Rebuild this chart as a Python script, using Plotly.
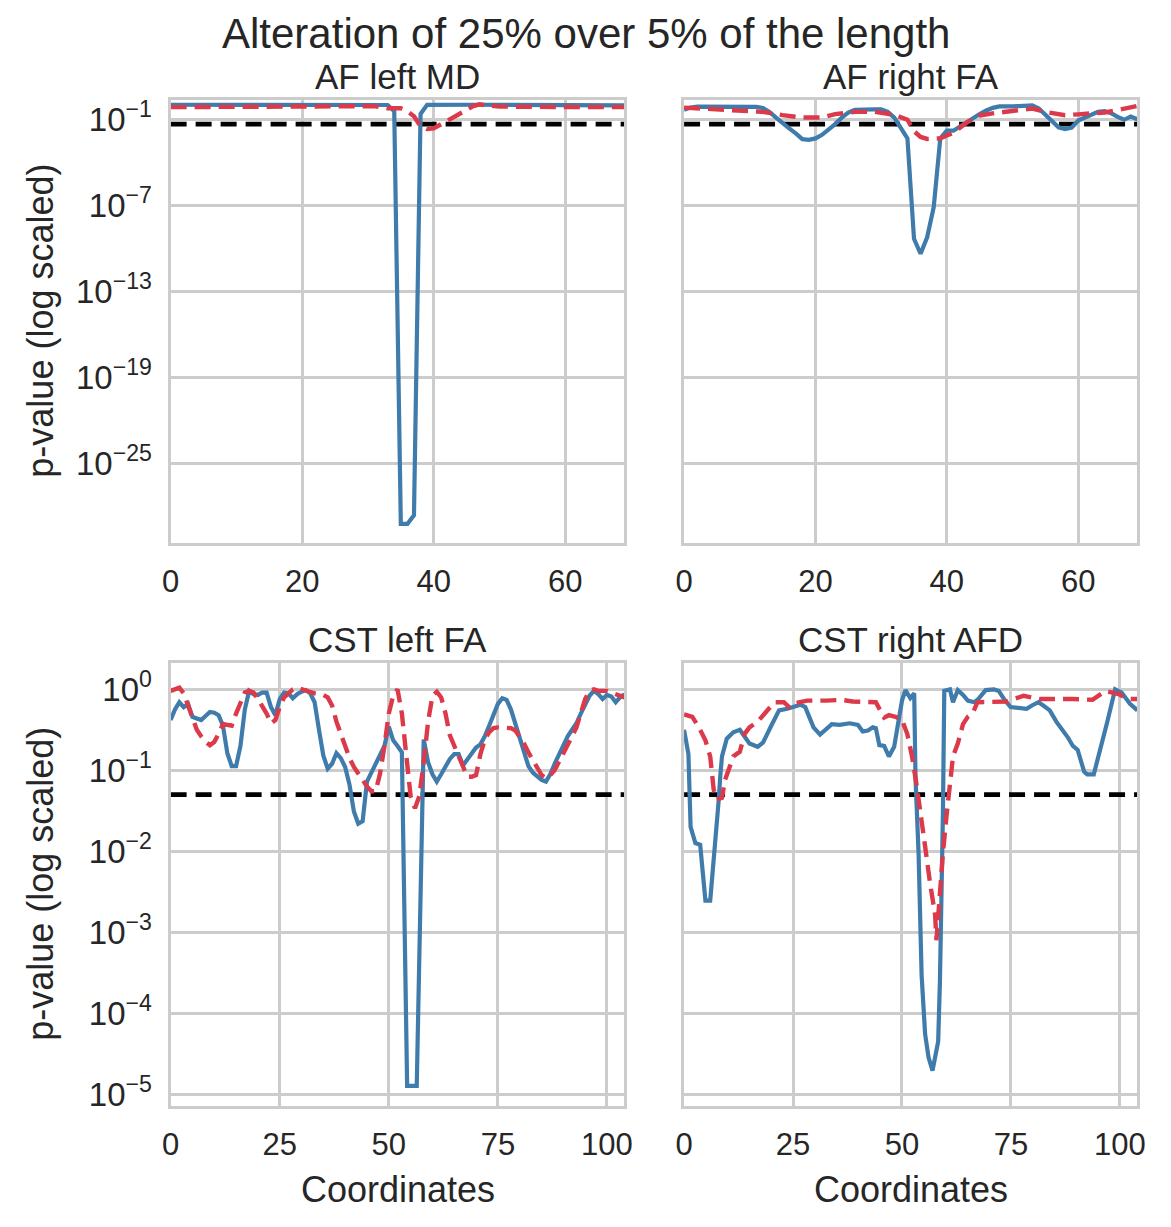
import plotly.graph_objects as go

# p-values are stored as log10(p)
THRESHOLD = 0.05

# AF left MD (top left)
af_left_md_solid_x = [0, 8, 16, 24, 32, 33, 34, 35, 36, 37, 38, 39, 46, 54, 62, 67, 69]
af_left_md_solid_logp = [0.05, 0.05, 0.05, 0.05, 0.04, 0.03, -0.4, -29.2, -29.2, -28.6, -0.6, 0.04,
                         0.05, 0.05, 0.05, 0.05, 0.0]
af_left_md_dashed_x = [0, 6, 12, 18, 24, 28, 31, 33, 35, 36, 37, 38, 39, 40, 41, 42, 43, 44, 45,
                       46, 47, 48, 50, 56, 62, 69]
af_left_md_dashed_logp = [-0.12, -0.12, -0.11, -0.09, -0.07, -0.05, -0.05, -0.2, -0.2, -0.4, -0.75,
                          -1.45, -1.65, -1.6, -1.35, -1.05, -0.8, -0.55, -0.3, -0.05, 0.08, 0.0,
                          -0.08, -0.12, -0.12, -0.12]

# AF right FA (top right)
af_right_fa_solid_x = list(range(0, 70))
af_right_fa_solid_logp = [-0.3, -0.15, -0.08, -0.08, -0.1, -0.13, -0.13, -0.12, -0.1, -0.08,
                          -0.08, -0.1, -0.18, -0.45, -0.85, -1.25, -1.6, -1.95, -2.35, -2.4,
                          -2.3, -2.05, -1.7, -1.3, -0.85, -0.5, -0.3, -0.27, -0.27, -0.27,
                          -0.27, -0.45, -0.85, -1.6, -2.3, -9.3, -10.35, -9.2, -7.1, -2.3,
                          -1.76, -1.76, -1.45, -1.2, -0.9, -0.6, -0.35, -0.17, -0.07, -0.03,
                          -0.06, -0.05, -0.02, 0.0, -0.22, -0.65, -1.15, -1.53, -1.65, -1.55,
                          -1.05, -0.85, -0.65, -0.45, -0.4, -0.54, -0.8, -1.0, -0.77, -0.96]
af_right_fa_dashed_x = [0, 3, 7, 12, 15, 18, 21, 23, 26, 29, 32, 34, 35, 36, 37, 38, 39, 40, 41,
                        42, 43, 44, 45, 47, 50, 53, 55, 58, 60, 64, 66, 69]
af_right_fa_dashed_logp = [-0.15, -0.22, -0.38, -0.45, -0.68, -0.84, -0.84, -0.61, -0.45, -0.45,
                           -0.65, -1.0, -1.8, -2.2, -2.34, -2.33, -2.3, -2.1, -1.9, -1.55,
                           -1.2, -0.95, -0.7, -0.55, -0.4, -0.22, -0.45, -0.68, -0.62, -0.49,
                           -0.33, -0.03]

# CST left FA (bottom left)
cst_left_fa_solid_x = list(range(0, 54)) + [54.2, 56.4] + list(range(58, 105))
cst_left_fa_solid_logp = [-0.38, -0.25, -0.16, -0.22, -0.18, -0.34, -0.36, -0.38, -0.33, -0.28,
                          -0.29, -0.32, -0.45, -0.79, -0.95, -0.95, -0.7, -0.25, -0.02, -0.06,
                          -0.07, -0.04, -0.04, -0.22, -0.32, -0.12, -0.04, -0.05, -0.11, -0.06,
                          -0.03, -0.01, -0.05, -0.16, -0.5, -0.82, -0.98, -0.92, -0.79, -0.85,
                          -0.96, -1.18, -1.51, -1.66, -1.63, -1.14, -1.03, -0.92, -0.82, -0.7,
                          -0.46, -0.63, -0.7, -0.78,
                          -4.9, -4.9,
                          -0.62, -0.9, -1.05, -1.14, -1.05, -0.95, -0.86, -0.8, -0.8, -0.94,
                          -0.86, -0.78, -0.72, -0.68, -0.58, -0.45, -0.32, -0.18, -0.11, -0.13,
                          -0.25, -0.42, -0.6, -0.78, -0.95, -1.03, -1.08, -1.12, -1.14, -1.05,
                          -0.92, -0.8, -0.68, -0.58, -0.5, -0.42, -0.3, -0.18, -0.08, -0.02,
                          -0.06, -0.12, -0.07, -0.09, -0.16, -0.1, -0.06]
cst_left_fa_dashed_x = list(range(0, 105))
cst_left_fa_dashed_logp = [-0.02, 0.0, 0.02, -0.05, -0.2, -0.38, -0.5, -0.58, -0.65, -0.69,
                           -0.65, -0.55, -0.43, -0.44, -0.45, -0.3, -0.15, -0.04, -0.02, -0.04,
                           -0.12, -0.2, -0.3, -0.42, -0.38, -0.22, -0.1, -0.05, 0.0, 0.02,
                           0.0, -0.01, -0.03, -0.05, -0.06, -0.07, -0.1, -0.2, -0.4, -0.55,
                           -0.7, -0.85, -0.96, -1.05, -1.12, -1.2, -1.26, -1.26, -1.04, -0.7,
                           -0.3, -0.08, 0.0, -0.3, -0.84, -1.32, -1.47, -1.32, -0.9, -0.4,
                           -0.08, -0.03, -0.1, -0.3, -0.57, -0.7, -0.8, -0.96, -1.08, -1.08,
                           -1.06, -0.8, -0.62, -0.53, -0.48, -0.47, -0.47, -0.47, -0.48, -0.51,
                           -0.58, -0.67, -0.78, -0.88, -0.98, -1.06, -1.1, -1.06, -1.0, -0.9,
                           -0.8, -0.7, -0.58, -0.47, -0.3, -0.12, -0.02, 0.0, -0.02, -0.02,
                           -0.02, -0.04, -0.06, -0.09, -0.1]

# CST right AFD (bottom right)
cst_right_afd_solid_x = [0, 1.0, 1.5, 2.6, 3.7, 4.4, 4.9, 6.0, 6.8, 7.9,
                         8.3, 8.7, 9.8, 11.3, 12.8, 13.9, 15.0, 16.9, 18.1, 20.0,
                         21.8, 23.7, 25.2, 26.7, 27.8, 29.7, 31.2, 32.4, 33.9, 35.7,
                         38.0, 39.9, 41.0, 42.2, 43.3, 44.0, 44.8, 45.9, 47.0, 48.2,
                         49.3, 50.0, 50.8, 51.9, 52.8, 53.1, 53.8, 54.5, 55.3, 56.1,
                         57.0, 58.3, 58.7, 59.1, 59.4, 59.7, 61.0, 61.7, 62.8, 64.0,
                         65.1, 66.6, 67.5, 69.2, 71.1, 72.2, 73.4, 74.9, 77.1, 78.6,
                         79.8, 81.3, 82.4, 83.9, 85.4, 88.0, 89.2, 90.3, 91.8, 92.5,
                         94.0, 95.2, 97.1, 98.9, 100.4, 102.3, 103.5, 104.0]
cst_right_afd_solid_logp = [-0.5, -0.8, -1.7, -1.9, -1.92, -2.3, -2.61, -2.61, -2.14, -1.4,
                            -1.08, -0.83, -0.61, -0.53, -0.5, -0.59, -0.67, -0.71, -0.66, -0.45,
                            -0.26, -0.24, -0.22, -0.19, -0.22, -0.47, -0.56, -0.5, -0.43, -0.44,
                            -0.42, -0.44, -0.52, -0.51, -0.47, -0.48, -0.69, -0.7, -0.83, -0.71,
                            -0.38, -0.14, -0.01, -0.11, -0.05, -1.1, -2.02, -3.53, -4.26, -4.55,
                            -4.71, -4.35, -3.61, -2.71, -1.49, -0.02, 0.0, -0.16, -0.01, -0.07,
                            -0.14, -0.16, -0.12, -0.01, 0.0, -0.02, -0.12, -0.22, -0.23, -0.24,
                            -0.2, -0.16, -0.2, -0.26, -0.4, -0.59, -0.7, -0.75, -1.02, -1.05,
                            -1.05, -0.81, -0.4, 0.0, -0.04, -0.18, -0.24, -0.26]
cst_right_afd_dashed_x = [0, 1.9, 3.4, 4.9, 6.0, 6.8, 7.5, 8.7, 9.4, 10.2,
                          11.3, 12.8, 13.9, 15.0, 16.9, 18.8, 20.7, 22.9, 24.1, 25.6,
                          28.2, 32.7, 36.0, 38.7, 44.0, 45.9, 47.0, 48.5, 50.0, 51.2,
                          52.3, 53.4, 54.2, 55.3, 56.4, 57.6, 57.9, 58.7, 59.4, 60.2,
                          60.9, 61.7, 62.8, 64.0, 65.1, 66.2, 67.3, 70.3, 74.1, 77.9,
                          81.6, 89.2, 93.7, 96.7, 99.7, 101.9, 104.0]
cst_right_afd_dashed_logp = [-0.31, -0.34, -0.47, -0.63, -0.83, -1.24, -1.36, -1.34, -1.12, -1.0,
                             -0.83, -0.77, -0.55, -0.47, -0.4, -0.28, -0.16, -0.16, -0.22, -0.17,
                             -0.14, -0.14, -0.13, -0.15, -0.16, -0.35, -0.32, -0.34, -0.38, -0.55,
                             -0.83, -1.2, -1.49, -1.94, -2.38, -2.79, -3.1, -2.47, -2.02, -1.57,
                             -1.2, -0.83, -0.67, -0.43, -0.34, -0.3, -0.16, -0.16, -0.15, -0.08,
                             -0.12, -0.12, -0.13, -0.02, -0.06, -0.12, -0.12]

panel_titles = ["AF left MD", "AF right FA", "CST left FA", "CST right AFD"]
top_y_ticks = [-1, -7, -13, -19, -25]
bottom_y_ticks = [0, -1, -2, -3, -4, -5]
top_x_ticks = [0, 20, 40, 60]
bottom_x_ticks = [0, 25, 50, 75, 100]

BLUE = "#3f7bab"
RED = "#dc3a4a"
TEXT = "#262626"
GRID = "#cccccc"
FONT = "Arial, Liberation Sans, sans-serif"
W, H = 1171, 1227

panels = [
    dict(n="", xd=(164, 624.5), yd=(97.5, 544), xmax=69, yr=(-30.5, 0.40),
         solid=(af_left_md_solid_x, af_left_md_solid_logp),
         dashed=(af_left_md_dashed_x, af_left_md_dashed_logp)),
    dict(n="2", xd=(685, 1145), yd=(97.5, 544), xmax=69, yr=(-30.5, 0.40),
         solid=(af_right_fa_solid_x, af_right_fa_solid_logp),
         dashed=(af_right_fa_dashed_x, af_right_fa_dashed_logp)),
    dict(n="3", xd=(164, 624.5), yd=(665, 1112), xmax=104, yr=(-5.147, 0.33),
         solid=(cst_left_fa_solid_x, cst_left_fa_solid_logp),
         dashed=(cst_left_fa_dashed_x, cst_left_fa_dashed_logp)),
    dict(n="4", xd=(685, 1145), yd=(665, 1112), xmax=104, yr=(-5.147, 0.33),
         solid=(cst_right_afd_solid_x, cst_right_afd_solid_logp),
         dashed=(cst_right_afd_dashed_x, cst_right_afd_dashed_logp)),
]


def sup(e):
    return "10<sup>" + str(e).replace("-", "\u2212") + "</sup>"


fig = go.Figure()
annotations = []

for i, p in enumerate(panels):
    xa, ya = "x" + p["n"], "y" + p["n"]
    top = i < 2
    # significance threshold
    fig.add_trace(go.Scatter(x=[0, p["xmax"]], y=[THRESHOLD, THRESHOLD], xaxis=xa, yaxis=ya,
                             mode="lines", line=dict(color="black", width=4.6, dash="16px,9px"),
                             showlegend=False))
    sx, sy = p["solid"]
    fig.add_trace(go.Scatter(x=sx, y=[10 ** v for v in sy], xaxis=xa, yaxis=ya, mode="lines",
                             line=dict(color=BLUE, width=4.2), showlegend=False))
    dx, dy = p["dashed"]
    fig.add_trace(go.Scatter(x=dx, y=[10 ** v for v in dy], xaxis=xa, yaxis=ya, mode="lines",
                             line=dict(color=RED, width=4.4, dash="16px,8px"), showlegend=False))

    xt = top_x_ticks if top else bottom_x_ticks
    yt = top_y_ticks if top else bottom_y_ticks
    axis_common = dict(showgrid=True, gridcolor=GRID, gridwidth=2.8, showline=True,
                       linecolor=GRID, linewidth=3.2, mirror=True, zeroline=False, ticks="")
    fig.update_layout(**{
        "xaxis" + p["n"]: dict(domain=[p["xd"][0] / W, p["xd"][1] / W], range=[0, p["xmax"]],
                               anchor=ya, tickvals=xt, ticklabelstandoff=9,
                               tickfont=dict(size=31, color=TEXT, family=FONT), **axis_common),
        "yaxis" + p["n"]: dict(domain=[1 - p["yd"][1] / H, 1 - p["yd"][0] / H], type="log",
                               range=list(p["yr"]), anchor=xa,
                               tickvals=[10 ** e for e in yt], ticktext=[sup(e) for e in yt],
                               showticklabels=(i % 2 == 0), ticklabelstandoff=9,
                               tickfont=dict(size=33, color=TEXT, family=FONT), **axis_common),
    })

    cx = (p["xd"][0] + p["xd"][1]) / 2 / W
    annotations.append(dict(text=panel_titles[i], x=cx, y=1 - (p["yd"][0] - 23) / H,
                            xref="paper", yref="paper", showarrow=False,
                            xanchor="center", yanchor="middle",
                            font=dict(size=35, color=TEXT, family=FONT)))
    if i % 2 == 0:
        annotations.append(dict(text="p-value (log scaled)", x=32 / W,
                                y=1 - (p["yd"][0] + p["yd"][1]) / 2 / H,
                                xref="paper", yref="paper", showarrow=False, textangle=-90,
                                xanchor="center", yanchor="middle",
                                font=dict(size=36, color=TEXT, family=FONT)))
    if not top:
        annotations.append(dict(text="Coordinates", x=cx, y=1 - 1196 / H,
                                xref="paper", yref="paper", showarrow=False,
                                xanchor="center", yanchor="middle",
                                font=dict(size=36, color=TEXT, family=FONT)))

annotations.append(dict(text="Alteration of 25% over 5% of the length", x=586 / W, y=1 - 31 / H,
                        xref="paper", yref="paper", showarrow=False,
                        xanchor="center", yanchor="middle",
                        font=dict(size=42, color=TEXT, family=FONT)))

fig.update_layout(
    width=W, height=H,
    margin=dict(l=0, r=0, t=0, b=0),
    paper_bgcolor="white", plot_bgcolor="white",
    font=dict(family=FONT, color=TEXT),
    annotations=annotations,
    showlegend=False,
)

# the page body has a default 8px margin; drop it so the figure fills the window exactly
fig.write_html("out.html", config={"displayModeBar": False},
               post_script="document.body.style.margin = '0';")
